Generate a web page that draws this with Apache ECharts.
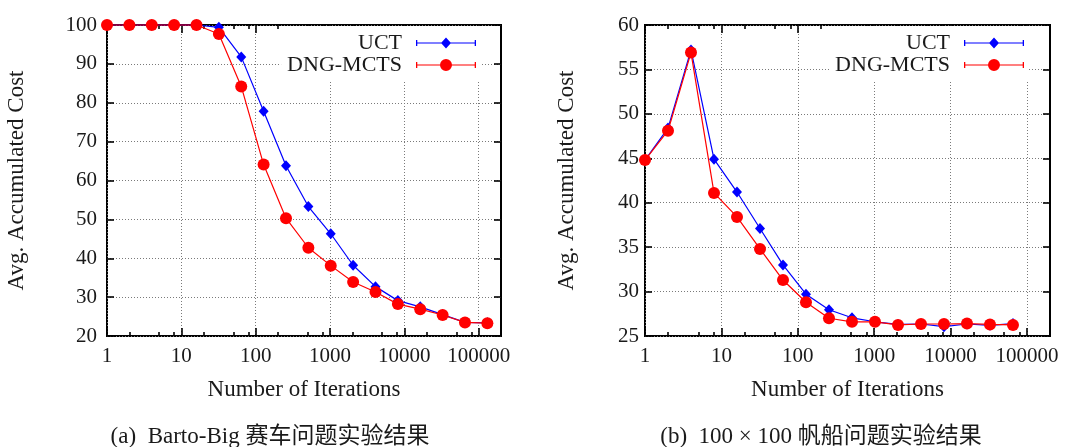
<!DOCTYPE html>
<html>
<head>
<meta charset="utf-8">
<script src="https://cdn.jsdelivr.net/npm/echarts@6/dist/echarts.min.js"></script>
<style>
  html, body { margin: 0; padding: 0; background: #fff; }
  #chart { width: 1072px; height: 447px; }
</style>
</head>
<body>
<div id="chart"></div>
<script>
// Iteration counts (powers of two) and average accumulated cost per run
const bartoIterations = [1, 2, 4, 8, 16, 32, 64, 128, 256, 512, 1024, 2048, 4096, 8192, 16384, 32768, 65536, 131072];
const bartoUCT = [100, 100, 100, 100, 100, 99.4, 91.8, 77.8, 63.8, 53.3, 46.3, 38.2, 32.7, 29.1, 27.5, 25.5, 23.5, 23.4];
const bartoDNG = [100, 100, 100, 100, 100, 97.7, 84.2, 64.1, 50.3, 42.7, 38.1, 33.9, 31.3, 28.2, 26.9, 25.4, 23.5, 23.3];

const sailIterations = [1, 2, 4, 8, 16, 32, 64, 128, 256, 512, 1024, 2048, 4096, 8192, 16384, 32768, 65536];
const sailUCT = [44.8, 48.4, 57.2, 44.9, 41.2, 37.1, 33.0, 29.7, 27.95, 27.05, 26.6, 26.3, 26.35, 26.05, 26.35, 26.2, 26.4];
const sailDNG = [44.8, 48.1, 56.9, 41.1, 38.4, 34.8, 31.3, 28.8, 27.0, 26.6, 26.6, 26.25, 26.35, 26.35, 26.4, 26.3, 26.25];

const xMajorTicks = [1, 10, 100, 1000, 10000, 100000];
const xMinorTicks = [2, 5, 8, 20, 50, 80, 200, 500, 800, 2000, 5000, 8000, 20000, 50000, 80000];

const seriesNames = ['UCT', 'DNG-MCTS'];
const seriesColors = ['#0000ff', '#ff0000'];
const xAxisTitle = 'Number of Iterations';
const yAxisTitle = 'Avg. Accumulated Cost';
const captions = ['(a)  Barto-Big 赛车问题实验结果', '(b)  100 × 100 帆船问题实验结果'];

const FONT = "'Liberation Serif', 'Noto Sans CJK SC', serif";
const TEXT = '#1a1a1a';

// legend icons: error-bar line with caps and the series marker in the middle
const uctIcon = 'path://M0 3H1.3V9H0Z M58.7 3H60V9H58.7Z M0 5.4H60V6.6H0Z M30 0.5L35 6L30 11.5L25 6Z';
const dngIcon = 'path://M0 3H1.3V9H0Z M58.7 3H60V9H58.7Z M0 5.4H60V6.6H0Z M24 6A6 6 0 1 1 36 6A6 6 0 1 1 24 6Z';

function pairs(xs, ys) { return xs.map((x, i) => [x, ys[i]]); }

const panels = [
  { grid: { left: 107, top: 25, width: 394, height: 311 }, xs: bartoIterations, uct: bartoUCT, dng: bartoDNG,
    yMin: 20, yMax: 100, yStep: 10, yNameGap: 79, yLabelMargin: 10, legendRight: 592, captionX: 270 },
  { grid: { left: 645, top: 25, width: 405, height: 311 }, xs: sailIterations, uct: sailUCT, dng: sailDNG,
    yMin: 25, yMax: 60, yStep: 5, yNameGap: 67, yLabelMargin: 6, legendRight: 44, captionX: 821 }
];

const option = {
  backgroundColor: '#fff',
  animation: false,
  grid: [], xAxis: [], yAxis: [], series: [], legend: [], graphic: []
};

const dotted = { color: '#7a7a7a', width: 1, type: [1, 2] };
const tickLine = { color: '#000', width: 1.6 };

panels.forEach((p, gi) => {
  option.grid.push(Object.assign({ show: true, borderColor: '#000', borderWidth: 2, backgroundColor: 'transparent' }, p.grid));

  const xBase = { type: 'log', logBase: 10, min: 1, max: 200000, interval: 1, gridIndex: gi, axisLine: { show: false } };
  const xi = option.xAxis.length;
  // main bottom axis with labels, decade ticks and grid lines
  option.xAxis.push(Object.assign({}, xBase, {
    position: 'bottom',
    name: xAxisTitle, nameLocation: 'middle', nameGap: 42,
    nameTextStyle: { fontFamily: FONT, fontSize: 23, color: TEXT },
    axisTick: { inside: true, length: 8, lineStyle: tickLine, customValues: xMajorTicks },
    axisLabel: { margin: 10, fontFamily: FONT, fontSize: 21, color: TEXT, showMaxLabel: false,
                 formatter: v => String(Math.round(v)) },
    splitLine: { show: true, lineStyle: dotted }
  }));
  // mirrored decade ticks on top
  option.xAxis.push(Object.assign({}, xBase, {
    position: 'top',
    axisTick: { inside: true, length: 8, lineStyle: tickLine, customValues: xMajorTicks },
    axisLabel: { show: false }, splitLine: { show: false }
  }));
  // minor ticks, bottom and top
  ['bottom', 'top'].forEach(pos => {
    option.xAxis.push(Object.assign({}, xBase, {
      position: pos,
      axisTick: { inside: true, length: 4, lineStyle: tickLine, customValues: xMinorTicks },
      axisLabel: { show: false }, splitLine: { show: false }
    }));
  });

  const yBase = { type: 'value', min: p.yMin, max: p.yMax, interval: p.yStep, gridIndex: gi, axisLine: { show: false } };
  const yi = option.yAxis.length;
  option.yAxis.push(Object.assign({}, yBase, {
    position: 'left',
    name: yAxisTitle, nameLocation: 'middle', nameGap: p.yNameGap,
    nameTextStyle: { fontFamily: FONT, fontSize: 23, color: TEXT },
    axisTick: { inside: true, length: 7, lineStyle: tickLine },
    axisLabel: { margin: p.yLabelMargin, fontFamily: FONT, fontSize: 21, color: TEXT },
    splitLine: { show: true, lineStyle: dotted }
  }));
  option.yAxis.push(Object.assign({}, yBase, {
    position: 'right',
    axisTick: { inside: true, length: 7, lineStyle: tickLine },
    axisLabel: { show: false }, splitLine: { show: false }
  }));

  [p.uct, p.dng].forEach((vals, si) => {
    option.series.push({
      type: 'line', name: seriesNames[si],
      xAxisIndex: xi, yAxisIndex: yi,
      data: pairs(p.xs, vals),
      clip: false,
      symbol: si === 0 ? 'diamond' : 'circle',
      symbolSize: si === 0 ? [10, 11] : 12,
      showAllSymbol: true,
      color: seriesColors[si],
      lineStyle: { width: 1.2, color: seriesColors[si] },
      itemStyle: { color: seriesColors[si] },
      z: 3 + si
    });
  });

  option.legend.push({
    orient: 'vertical', align: 'right',
    right: p.legendRight, top: 26,
    padding: [6, 4, 4, 6],
    backgroundColor: '#fff',
    itemWidth: 60, itemHeight: 12, itemGap: 0,
    selectedMode: false,
    itemStyle: { borderWidth: 0 },
    textStyle: { fontFamily: FONT, fontSize: 22, lineHeight: 21, color: TEXT, padding: [0, 9, 0, 0] },
    data: [{ name: seriesNames[0], icon: uctIcon }, { name: seriesNames[1], icon: dngIcon }]
  });

  option.graphic.push({
    type: 'text', x: p.captionX, y: 437,
    style: { text: captions[gi], fontFamily: FONT, fontSize: 23, fill: TEXT, align: 'center', verticalAlign: 'middle' }
  });
});

const chart = echarts.init(document.getElementById('chart'), null, { renderer: 'canvas' });
chart.setOption(option);
</script>
</body>
</html>
